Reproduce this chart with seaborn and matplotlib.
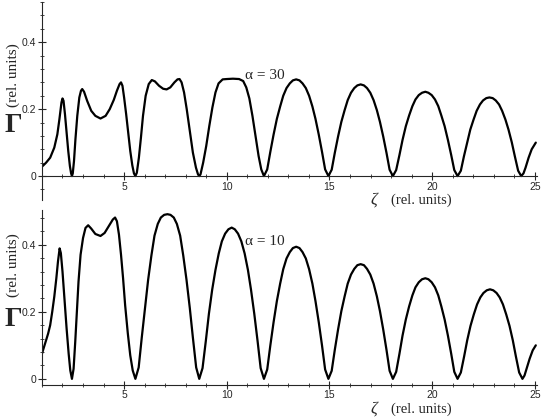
import numpy as np
import pandas as pd
import seaborn as sns
import matplotlib.pyplot as plt
from matplotlib.ticker import MultipleLocator

# ---- top panel, alpha = 30 ----
zeta30_a = [1.00, 1.20, 1.40, 1.60, 1.75, 1.85, 1.95, 2.00, 2.05, 2.12, 2.20, 2.28, 2.36, 2.42, 2.46,
            2.50, 2.56, 2.63, 2.72, 2.82, 2.90, 2.96, 3.05, 3.20, 3.40, 3.60, 3.85, 4.10, 4.30, 4.50,
            4.65, 4.78, 4.85, 4.92, 5.00, 5.10, 5.20, 5.30, 5.40, 5.48, 5.55, 5.62, 5.72, 5.82, 5.92,
            6.05, 6.20, 6.35, 6.50, 6.70, 6.90, 7.07, 7.25, 7.45, 7.60, 7.70, 7.80, 7.92, 8.05, 8.20,
            8.35, 8.50, 8.60, 8.66, 8.72, 8.85, 9.00, 9.15, 9.30, 9.45, 9.60, 9.80, 10.00, 10.30, 10.60,
            10.80, 10.95, 11.10, 11.25, 11.40, 11.55, 11.68]
gamma30_a = [0.028, 0.040, 0.055, 0.085, 0.125, 0.170, 0.220, 0.232, 0.225, 0.185, 0.130, 0.075, 0.030, 0.008, 0.000,
             0.008, 0.045, 0.110, 0.180, 0.235, 0.255, 0.260, 0.252, 0.225, 0.195, 0.180, 0.172, 0.180, 0.200, 0.228,
             0.255, 0.275, 0.280, 0.270, 0.235, 0.185, 0.130, 0.075, 0.032, 0.008, 0.000, 0.010, 0.055, 0.115, 0.180,
             0.240, 0.275, 0.287, 0.283, 0.270, 0.261, 0.259, 0.265, 0.280, 0.289, 0.290, 0.280, 0.250, 0.200, 0.135,
             0.070, 0.025, 0.005, 0.000, 0.005, 0.040, 0.090, 0.150, 0.205, 0.250, 0.277, 0.289, 0.290, 0.291, 0.290,
             0.284, 0.265, 0.232, 0.180, 0.120, 0.060, 0.020]

zeta_h1 = [11.81, 11.97, 12.12, 12.28, 12.44, 12.60, 12.75, 12.91, 13.07, 13.22, 13.38,
           13.54, 13.69, 13.85, 14.01, 14.17, 14.32, 14.48, 14.64, 14.79]
zeta_h2 = [14.95, 15.11, 15.26, 15.42, 15.58, 15.74, 15.89, 16.05, 16.21, 16.36, 16.52,
           16.68, 16.83, 16.99, 17.15, 17.31, 17.46, 17.62, 17.78, 17.93]
zeta_h3 = [18.09, 18.25, 18.41, 18.56, 18.72, 18.88, 19.04, 19.19, 19.35, 19.51, 19.67,
           19.82, 19.98, 20.14, 20.30, 20.45, 20.61, 20.77, 20.93, 21.08]

gamma30_h1 = [0, .020, .072, .124, .171, .208, .240, .263, .277, .286, .289,
              .286, .277, .263, .240, .208, .171, .124, .072, .020]
gamma30_h2 = [0, .019, .069, .118, .162, .197, .227, .249, .263, .271, .274,
              .271, .263, .249, .227, .197, .162, .118, .069, .019]
gamma30_h3 = [0, .018, .063, .108, .149, .181, .209, .229, .242, .249, .252,
              .249, .242, .229, .209, .181, .149, .108, .063, .018]
zeta30_h4 = [21.24, 21.40, 21.55, 21.71, 21.86, 22.02, 22.17, 22.33, 22.48, 22.64, 22.79,
             22.95, 23.10, 23.26, 23.41, 23.57, 23.72, 23.88, 24.03, 24.19,
             24.34, 24.45, 24.55, 24.70, 24.85, 25.05]
gamma30_h4 = [0, .016, .059, .101, .139, .169, .195, .214, .226, .233, .235,
              .233, .226, .214, .195, .169, .139, .101, .059, .016,
              0, .008, .025, .055, .080, .100]

# ---- bottom panel, alpha = 10 ----
zeta10_a = [1.00, 1.10, 1.20, 1.30, 1.40, 1.50, 1.60, 1.70, 1.78, 1.86, 1.92, 2.00, 2.10, 2.20, 2.30,
            2.38, 2.46, 2.54, 2.62, 2.70, 2.78, 2.88, 3.00, 3.12, 3.25, 3.40, 3.60, 3.85, 4.05, 4.25,
            4.45, 4.56, 4.65, 4.75, 4.85, 4.95, 5.05, 5.18, 5.30, 5.42]
gamma10_a = [0.075, 0.095, 0.115, 0.135, 0.160, 0.200, 0.245, 0.300, 0.350, 0.389, 0.375, 0.320, 0.235, 0.150, 0.075,
             0.025, 0.000, 0.030, 0.110, 0.200, 0.290, 0.370, 0.420, 0.450, 0.458, 0.448, 0.432, 0.426, 0.435, 0.455,
             0.475, 0.481, 0.470, 0.430, 0.370, 0.300, 0.220, 0.136, 0.070, 0.025]
zeta10_b = [5.55, 5.71, 5.86, 6.02, 6.17, 6.33, 6.48, 6.64, 6.79, 6.95, 7.11,
            7.26, 7.42, 7.57, 7.73, 7.88, 8.04, 8.20, 8.35, 8.51,
            8.66, 8.82, 8.98, 9.13, 9.29, 9.45, 9.61, 9.76, 9.92, 10.08, 10.24,
            10.39, 10.55, 10.71, 10.87, 11.03, 11.18, 11.34, 11.50, 11.65]
gamma10_b = [0, .034, .123, .211, .295, .368, .427, .462, .481, .489, .491,
             .489, .481, .462, .427, .368, .295, .211, .123, .034,
             0, .032, .113, .194, .266, .325, .374, .410, .433, .446, .451,
             .446, .433, .410, .374, .325, .266, .194, .113, .032]
gamma10_h1 = [0, .028, .099, .169, .232, .284, .327, .359, .378, .390, .394,
              .390, .378, .359, .327, .284, .232, .169, .099, .028]
gamma10_h2 = [0, .024, .086, .147, .202, .246, .284, .311, .328, .339, .342,
              .339, .328, .311, .284, .246, .202, .147, .086, .024]
gamma10_h3 = [0, .021, .075, .129, .177, .216, .249, .273, .288, .297, .300,
              .297, .288, .273, .249, .216, .177, .129, .075, .021]
zeta10_h4 = [21.24, 21.40, 21.56, 21.71, 21.87, 22.03, 22.19, 22.35, 22.50, 22.66, 22.82,
             22.98, 23.14, 23.29, 23.45, 23.61, 23.77, 23.93, 24.08, 24.24,
             24.40, 24.50, 24.60, 24.75, 24.90, 25.05]
gamma10_h4 = [0, .019, .067, .115, .158, .192, .222, .243, .256, .264, .267,
              .264, .256, .243, .222, .192, .158, .115, .067, .019,
              0, .010, .030, .060, .085, .100]

df30 = pd.DataFrame({'zeta': zeta30_a + zeta_h1 + zeta_h2 + zeta_h3 + zeta30_h4,
                     'gamma': gamma30_a + gamma30_h1 + gamma30_h2 + gamma30_h3 + gamma30_h4})
df10 = pd.DataFrame({'zeta': zeta10_a + zeta10_b + zeta_h1 + zeta_h2 + zeta_h3 + zeta10_h4,
                     'gamma': gamma10_a + gamma10_b + gamma10_h1 + gamma10_h2 + gamma10_h3 + gamma10_h4})

sns.set_style("ticks")
plt.rcParams['font.family'] = ['Liberation Sans', 'DejaVu Sans']
serif = ['Liberation Serif', 'DejaVu Serif']

fig = plt.figure(figsize=(5.45, 4.17), dpi=100)
ax1 = fig.add_axes([0.077, 0.520, 0.908, 0.475])
ax2 = fig.add_axes([0.077, 0.077, 0.908, 0.419])

sns.lineplot(data=df30, x='zeta', y='gamma', ax=ax1, color='black', lw=1.6, estimator=None, sort=False)
sns.lineplot(data=df10, x='zeta', y='gamma', ax=ax2, color='black', lw=1.6, estimator=None, sort=False)

ax1.set_ylim(-0.072, 0.52)
ax2.set_ylim(-0.018, 0.503)
ax1.spines['bottom'].set_position(('data', 0))

for ax in (ax1, ax2):
    ax.set_xlim(1.0, 25.1)
    ax.set_xlabel('')
    ax.set_ylabel('')
    ax.spines['top'].set_visible(False)
    ax.spines['right'].set_visible(False)
    for s in ('left', 'bottom'):
        ax.spines[s].set_linewidth(0.8)
    ax.set_xticks([5, 10, 15, 20, 25])
    ax.set_yticks([0, 0.2, 0.4])
    ax.set_yticklabels(['0', '0.2', '0.4'])
    ax.xaxis.set_minor_locator(MultipleLocator(1))
    ax.yaxis.set_minor_locator(MultipleLocator(0.04))
    ax.tick_params(which='major', direction='inout', length=6, width=0.8, labelsize=7.5, pad=1)
    ax.tick_params(which='minor', direction='inout', length=3, width=0.6)

ax1.text(10.87, 0.30, 'α = 30', family=serif, fontsize=11, va='center')
ax2.text(10.9, 0.41, 'α = 10', family=serif, fontsize=11, va='center')

H = 417.0
W = 545.0
for ylab, ygam, yx in ((75, 125, 200), (265, 320, 409)):
    fig.text(13 / W, 1 - ylab / H, '(rel. units)', family=serif, fontsize=11,
             rotation=90, ha='center', va='center')
    fig.text(13 / W, 1 - ygam / H, 'Γ', family=serif, fontsize=20, fontweight='bold',
             ha='center', va='center')
    fig.text(374 / W, 1 - yx / H, 'ζ', family=serif, fontsize=12, style='italic',
             ha='center', va='center')
    fig.text(421 / W, 1 - yx / H, '(rel. units)', family=serif, fontsize=10.5,
             ha='center', va='center')

fig.savefig('out.png', dpi=100)
